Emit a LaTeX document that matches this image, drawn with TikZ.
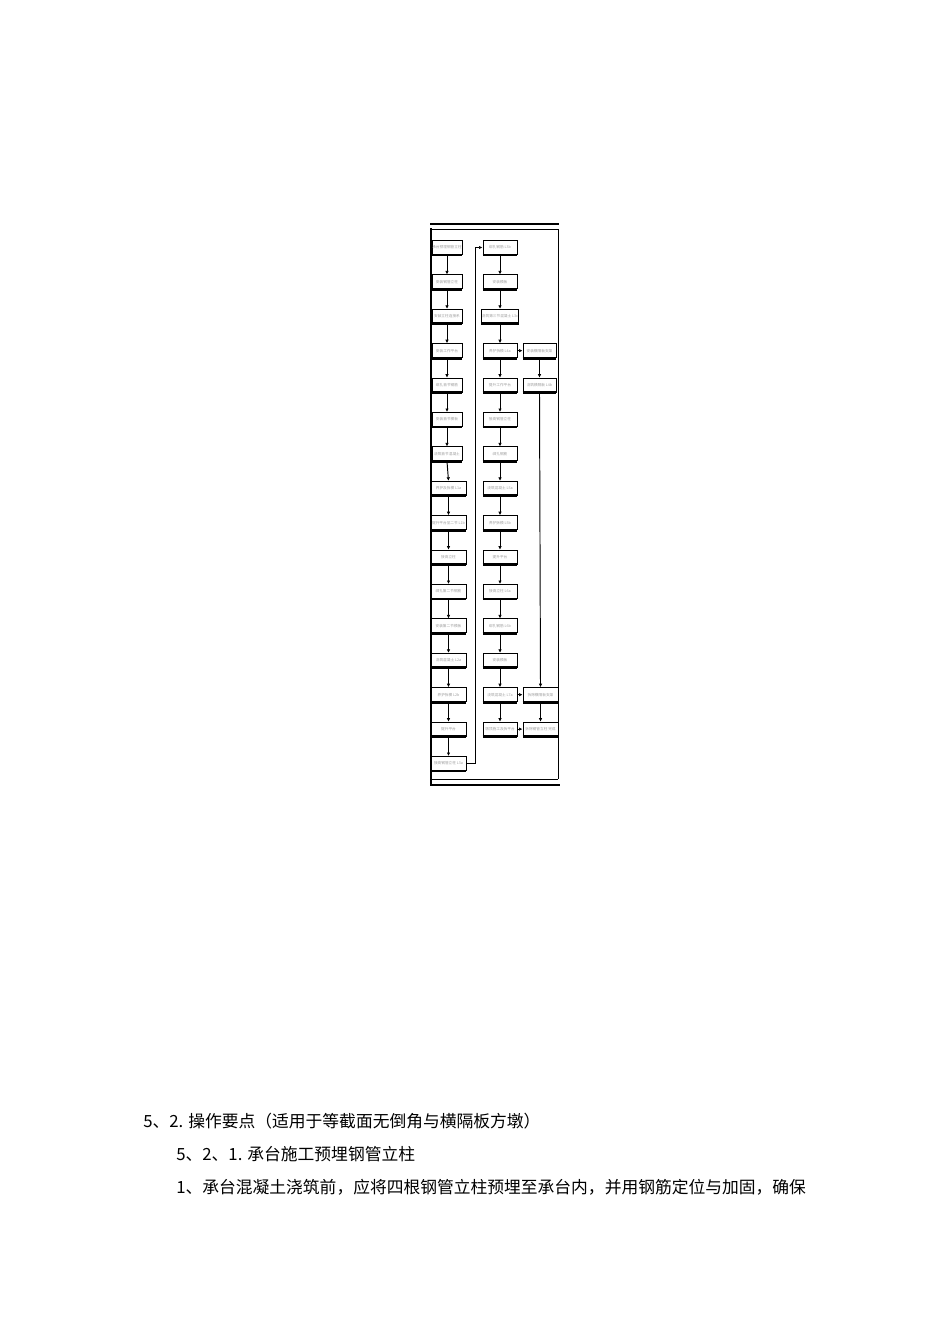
\documentclass[tikz,border=0pt]{standalone}
\usepackage{fontspec}
\newfontfamily\cjk{Noto Sans CJK SC}
\usetikzlibrary{arrows.meta}
\newcommand{\pxl}{0.6263pt}
\newcommand{\boxcolor}{black}
\newcommand{\rimwidth}{1.7pt}
\tikzset{
  stepbox/.style={draw=\boxcolor, line width=0.6pt, inner sep=0pt,
    minimum height=14*\pxl, text=gray!75,
    font=\cjk\fontsize{2.3pt}{2.6pt}\selectfont},
  narrowbox/.style={stepbox, minimum width=30*\pxl},
  widebox/.style={stepbox, minimum width=35*\pxl},
  midbox/.style={stepbox, minimum width=34*\pxl},
  flow/.style={line width=0.6pt, -{Latex[length=2.2pt,width=2.2pt]}},
  bodytext/.style={anchor=base west, inner sep=0pt,
    font=\cjk\fontsize{10.5pt}{12pt}\selectfont}
}

\begin{document}
\begin{tikzpicture}[x=\pxl, y=-\pxl]
\useasboundingbox (0,0) rectangle (950,1344);
% frame
\draw[line width=1.6pt] (430,224) -- (559,224);
\draw[line width=0.4pt] (430,229) -- (558,229);
\draw[line width=1.3pt] (431,228) -- (431,785);
\draw[line width=0.6pt] (558,229) -- (558,779);
\draw[line width=0.5pt] (430,779) -- (558,779);
\draw[line width=1.6pt] (430,785) -- (560,785);
% first column
\node[narrowbox] (a1) at (447, 247.5) {承台预埋钢管立柱};
\node[narrowbox] (a2) at (447, 281.9) {安装钢管立柱};
\node[narrowbox] (a3) at (447, 316.3) {安装立柱连接系};
\node[narrowbox] (a4) at (447, 350.7) {安装工作平台};
\node[narrowbox] (a5) at (447, 385.1) {绑扎首节钢筋};
\node[narrowbox] (a6) at (447, 419.5) {安装首节模板};
\node[narrowbox] (a7) at (447, 453.9) {浇筑首节混凝土};
\node[widebox] (a8) at (448.5, 488.3) {养护及拆模 L1a};
\node[widebox] (a9) at (448.5, 522.7) {提升平台至二节 L1b};
\node[widebox] (a10) at (448.5, 557.1) {接高立柱};
\node[widebox] (a11) at (448.5, 591.5) {绑扎第二节钢筋};
\node[widebox] (a12) at (448.5, 625.9) {安装第二节模板};
\node[widebox] (a13) at (448.5, 660.3) {浇筑混凝土 L2a};
\node[widebox] (a14) at (448.5, 694.7) {养护拆模 L2b};
\node[widebox] (a15) at (448.5, 729.1) {提升平台};
\node[widebox] (a16) at (448.5, 763.5) {接高钢管立柱 L3a};
% second column
\node[midbox] (b1) at (500, 247.5) {绑扎钢筋 L3b};
\node[midbox] (b2) at (500, 281.9) {安装模板};
\node[midbox] (b3) at (500, 316.3) {浇筑第三节混凝土 L3c};
\node[midbox] (b4) at (500, 350.7) {养护拆模 L4a};
\node[midbox] (b5) at (500, 385.1) {提升工作平台};
\node[midbox] (b6) at (500, 419.5) {接高钢管立柱};
\node[midbox] (b7) at (500, 453.9) {绑扎钢筋};
\node[midbox] (b8) at (500, 488.3) {浇筑混凝土 L5a};
\node[midbox] (b9) at (500, 522.7) {养护拆模 L5b};
\node[midbox] (b10) at (500, 557.1) {提升平台};
\node[midbox] (b11) at (500, 591.5) {接高立柱 L6a};
\node[midbox] (b12) at (500, 625.9) {绑扎钢筋 L6b};
\node[midbox] (b13) at (500, 660.3) {安装模板};
\node[midbox] (b14) at (500, 694.7) {浇筑混凝土 L7a};
\node[midbox] (b15) at (500, 729.1) {墩顶施工及拆平台};
% third column
\node[stepbox, minimum width=33*\pxl] (c1) at (539.5, 350.7) {安装横隔板支架};
\node[stepbox, minimum width=33*\pxl] (c2) at (539.5, 385.1) {浇筑横隔板 L4b};
\node[widebox] (c3) at (540.5, 694.7) {拆除横隔板支架};
\node[widebox] (c4) at (540.5, 729.1) {拆除钢管立柱 完成};
% thick lower rims
\foreach \b in {a1,a2,a3,a4,a5,a6,a7,a8,a9,a10,a11,a12,a13,a14,a15,a16,
  b1,b2,b3,b4,b5,b6,b7,b8,b9,b10,b11,b12,b13,b14,b15,c1,c2,c3,c4}
  \draw[line width=\rimwidth] (\b.south west) -- (\b.south east);
% connectors
\foreach \i [count=\j from 2] in {1,...,15}
  \draw[flow] (a\i.south) -- (a\j.north);
\foreach \i [count=\j from 2] in {1,...,14}
  \draw[flow] (b\i.south) -- (b\j.north);
\draw[flow] (a16.east) -- ++(9,0) |- (b1.west);
\draw[flow] (b4.east) -- (c1.west);
\draw[flow] (c1.south) -- (c2.north);
\draw[flow] (c2.south) -- (c3.north);
\draw[flow] (b14.east) -- (c3.west);
\draw[flow] (c3.south) -- (c4.north);
\draw[flow] (b15.east) -- (c4.west);
% text below
\node[bodytext] (t1) at (143,1127) {5、2. 操作要点（适用于等截面无倒角与横隔板方墩）};
\node[bodytext] (t2) at (176,1160) {5、2、1. 承台施工预埋钢管立柱};
\node[bodytext] (t3) at (176,1193) {1、承台混凝土浇筑前，应将四根钢管立柱预埋至承台内，并用钢筋定位与加固，确保};
\end{tikzpicture}
\end{document}
